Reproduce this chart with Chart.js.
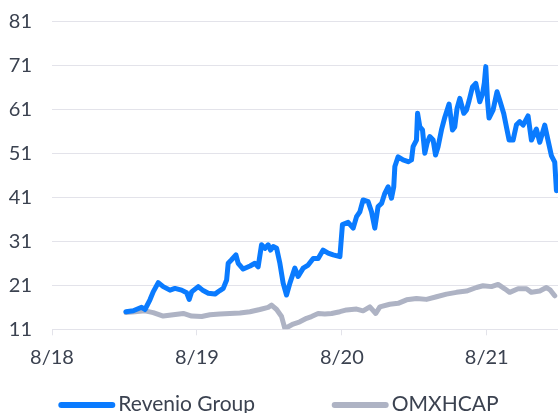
<!DOCTYPE html>
<html><head><meta charset="utf-8">
<script src="https://cdn.jsdelivr.net/npm/chart.js@4/dist/chart.umd.min.js"></script>
<style>html,body{margin:0;padding:0;background:#fff;overflow:hidden;} #wrap{width:558px;height:413px;}</style>
</head><body><div id="wrap"><canvas id="c" width="558" height="413"></canvas></div>
<script>
// x values: months since August 2018
const revenioMonths = [6.12,6.73,7.42,7.70,8.11,8.38,8.80,9.21,9.77,10.18,
 10.73,11.15,11.36,11.56,12.11,12.52,12.94,13.49,13.90,14.18,
 14.46,14.59,14.87,15.23,15.42,15.83,16.40,16.80,17.07,17.35,
 17.63,17.90,18.10,18.32,18.60,18.87,19.14,19.42,19.70,20.11,
 20.38,20.80,21.21,21.63,22.04,22.45,22.87,23.28,23.84,24.05,
 24.52,24.94,25.22,25.49,25.76,26.18,26.46,26.73,27.00,27.29,
 27.56,27.83,28.11,28.30,28.39,28.66,29.07,29.49,29.77,29.90,
 30.18,30.27,30.46,30.68,30.87,31.06,31.28,31.56,31.76,31.97,
 32.25,32.53,32.88,33.16,33.35,33.54,33.77,34.10,34.32,34.54,
 34.82,35.09,35.42,35.65,35.80,35.92,36.06,36.19,36.52,36.85,
 37.08,37.41,37.63,37.85,38.18,38.46,38.73,39.01,39.42,39.70,
 40.11,40.39,40.80,41.07,41.36,41.63,41.77];
const revenioValues = [15.0,15.2,16.0,15.5,17.7,19.5,21.6,20.7,19.9,20.3,
 19.9,19.3,17.8,19.5,20.7,19.8,19.2,19.0,19.8,20.3,
 22.2,26.0,26.8,27.9,26.0,24.7,25.4,26.0,25.2,30.2,
 29.4,30.2,29.0,29.8,29.4,26.0,21.5,18.8,21.5,24.9,
 23.0,24.9,25.6,27.1,27.1,29.0,28.3,27.9,27.5,34.8,
 35.3,34.0,36.6,37.7,40.4,40.0,37.7,34.0,38.9,39.6,
 41.9,43.4,40.8,43.4,48.0,50.2,49.5,49.1,49.5,52.5,
 54.0,60.1,57.0,56.3,51.0,53.3,54.8,54.0,50.6,52.5,
 56.3,59.2,62.2,56.3,57.0,61.2,63.5,60.1,60.8,63.0,
 66.1,66.9,62.7,64.5,67.0,70.7,63.1,59.0,60.8,65.0,
 63.0,60.0,57.0,54.0,54.0,57.5,58.2,57.4,59.5,54.0,
 56.5,53.5,57.4,54.0,50.4,49.0,42.5];
const omxMonths = [6.12,6.87,7.70,8.38,9.21,10.04,10.87,11.56,12.39,13.08,
 13.90,14.73,15.56,16.39,17.21,17.90,18.18,18.60,19.01,19.28,
 19.56,19.97,20.52,21.08,21.49,22.04,22.59,23.15,23.84,24.39,
 25.22,25.76,26.32,26.81,27.15,27.97,28.66,29.36,30.18,31.01,
 31.84,32.67,33.49,34.32,35.15,35.69,36.39,36.94,37.49,37.90,
 38.59,39.29,39.70,40.39,40.94,41.27,41.63];
const omxValues = [14.8,15.0,15.2,14.8,14.0,14.3,14.6,14.0,13.9,14.3,
 14.5,14.6,14.7,15.0,15.5,16.0,16.5,15.5,13.9,11.2,
 11.6,12.2,12.7,13.5,13.9,14.6,14.5,14.6,15.0,15.4,
 15.6,15.2,16.1,14.6,16.1,16.7,16.9,17.7,18.0,17.8,
 18.4,19.0,19.4,19.7,20.5,20.9,20.7,21.2,20.2,19.4,
 20.2,20.2,19.4,19.7,20.5,19.9,18.6];
const seriesNames = ['Revenio Group', 'OMXHCAP'];
const xTickMonths = [0, 12, 24, 36];
const xTickLabels = ['8/18', '8/19', '8/20', '8/21'];
const yTicks = [11, 21, 31, 41, 51, 61, 71, 81];

const textColor = '#3b4250';
const gridColor = '#e3e3ea';
const fontFamily = 'Lato, "Open Sans", sans-serif';

const toPoints = (xs, ys) => xs.map((x, i) => ({x: x, y: ys[i]}));

// legend drawn below the axis, using each dataset's label and colour
const legendLineStarts = [58.3, 331.7];
const bottomLegend = {
  id: 'bottomLegend',
  afterDraw(chart) {
    const ctx = chart.ctx;
    ctx.save();
    chart.data.datasets.forEach((ds, i) => {
      const x0 = legendLineStarts[i];
      ctx.strokeStyle = ds.borderColor;
      ctx.lineWidth = 6;
      ctx.lineCap = 'round';
      ctx.beginPath();
      ctx.moveTo(x0 + 3, 405);
      ctx.lineTo(x0 + 54, 405);
      ctx.stroke();
      ctx.fillStyle = textColor;
      ctx.font = '21px ' + fontFamily;
      ctx.textAlign = 'left';
      ctx.textBaseline = 'alphabetic';
      ctx.fillText(ds.label, x0 + 60, 411);
    });
    ctx.restore();
  }
};

new Chart(document.getElementById('c'), {
  type: 'line',
  data: {
    datasets: [
      {label: seriesNames[0], data: toPoints(revenioMonths, revenioValues),
       borderColor: '#0a7bff', backgroundColor: '#0a7bff', borderWidth: 5,
       pointRadius: 0, tension: 0, borderCapStyle: 'round', borderJoinStyle: 'round'},
      {label: seriesNames[1], data: toPoints(omxMonths, omxValues),
       borderColor: '#aeb3c4', backgroundColor: '#aeb3c4', borderWidth: 5,
       pointRadius: 0, tension: 0, borderCapStyle: 'round', borderJoinStyle: 'round'}
    ]
  },
  plugins: [bottomLegend],
  options: {
    responsive: false, animation: false, devicePixelRatio: 1,
    layout: {padding: {top: 21.3, left: 0, right: 0, bottom: 0}},
    plugins: {
      tooltip: {enabled: false},
      legend: {display: false}
    },
    scales: {
      x: {
        type: 'linear', min: 0, max: 41.9,
        afterBuildTicks: (s) => { s.ticks = xTickMonths.map(v => ({value: v})); },
        afterFit: (s) => { s.height = 413 - 329.3; },
        ticks: {
          autoSkip: false, maxRotation: 0, padding: 10, color: textColor,
          font: {family: fontFamily, size: 20},
          callback: (v) => xTickLabels[xTickMonths.indexOf(v)]
        },
        grid: {drawOnChartArea: false, drawTicks: true, tickLength: 6, color: gridColor},
        border: {color: gridColor}
      },
      y: {
        min: yTicks[0], max: yTicks[yTicks.length - 1],
        afterBuildTicks: (s) => { s.ticks = yTicks.map(v => ({value: v})); },
        afterFit: (s) => { s.width = 52; },
        ticks: {padding: 0, color: textColor, font: {family: fontFamily, size: 20}},
        grid: {color: gridColor, drawTicks: true, tickLength: 20, tickColor: 'rgba(0,0,0,0)'},
        border: {display: false}
      }
    }
  }
});
</script></body></html>
